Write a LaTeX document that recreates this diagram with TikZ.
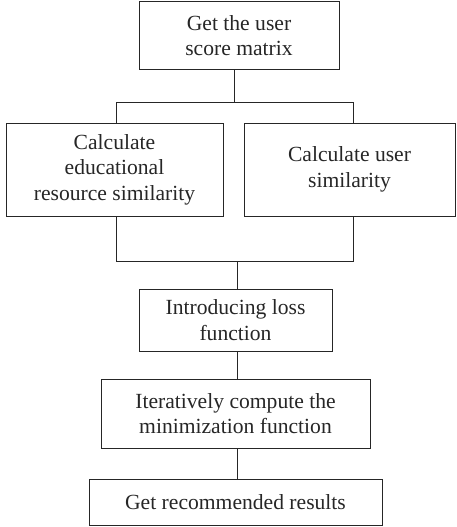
\documentclass[tikz,border=0pt]{standalone}
\usepackage{fontspec}
\setmainfont{Liberation Serif}
\begin{document}
\begin{tikzpicture}[x=1pt,y=-1pt,
  box/.style={draw=black!85,line width=1pt,inner sep=0pt,align=center,
    font=\fontsize{21.6}{25.5}\selectfont,text=black!85},
  conn/.style={draw=black!85,line width=1pt}]
\useasboundingbox (0,0) rectangle (456,527);
\node[box,minimum width=200pt,minimum height=67pt] (b1) at (239,35.5) {Get the user\\score matrix};
\node[box,minimum width=217pt,minimum height=93pt] (b2) at (114.5,169.5) {Calculate\\educational\\resource similarity};
\node[box,minimum width=211pt,minimum height=93pt] (b3) at (349.5,169.5) {Calculate user\\similarity};
\node[box,minimum width=193pt,minimum height=62pt] (b4) at (235.5,320) {Introducing loss\\function};
\node[box,minimum width=269pt,minimum height=69pt] (b5) at (235.5,413.5) {Iteratively compute the\\minimization function};
\node[box,minimum width=293pt,minimum height=46pt] (b6) at (235.5,502) {Get recommended results};
\coordinate (t) at (234,102);
\coordinate (tl) at (116,102);
\coordinate (tr) at (353,102);
\coordinate (bl) at (116,261);
\coordinate (br) at (353,261);
\coordinate (m) at (237,261);
\draw[conn] (b1.south -| t) -- (t);
\draw[conn] (tl) -- (tr);
\draw[conn] (tl) -- (tl |- b2.north);
\draw[conn] (tr) -- (tr |- b3.north);
\draw[conn] (b2.south -| bl) -- (bl) -- (br) -- (b3.south -| br);
\draw[conn] (m) -- (m |- b4.north);
\draw[conn] (b4.south -| m) -- (m |- b5.north);
\draw[conn] (b5.south -| m) -- (m |- b6.north);
\end{tikzpicture}
\end{document}
